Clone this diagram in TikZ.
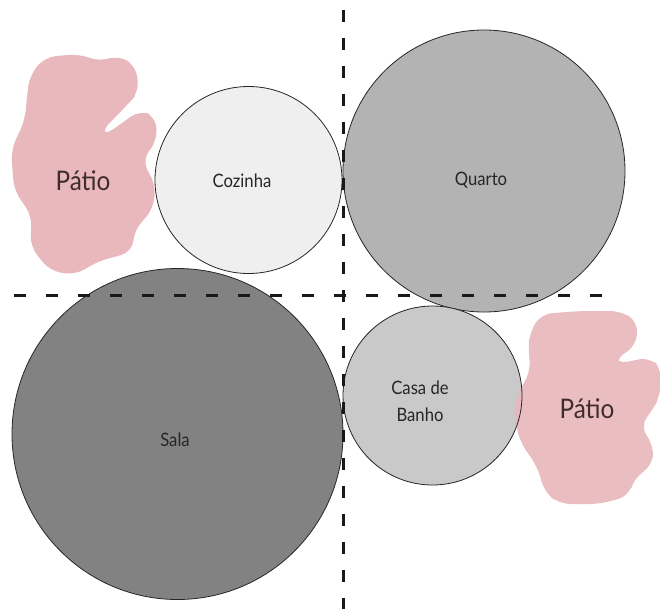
\documentclass[tikz,border=0pt]{standalone}
\usepackage{fontspec}
\setmainfont{Lato}[FakeStretch=0.9]
\definecolor{patio}{RGB}{232,184,188}
\definecolor{patiotext}{RGB}{64,44,46}
\definecolor{kitchen}{RGB}{239,239,239}
\definecolor{bedroom}{RGB}{179,179,179}
\definecolor{living}{RGB}{130,130,130}
\definecolor{bath}{RGB}{201,201,201}
\begin{document}
\begin{tikzpicture}[x=1pt,y=-1pt,
  room/.style={circle,draw=black!85,line width=0.8pt,inner sep=0pt},
  roomlabel/.style={text=black!85,font=\fontsize{18.5}{27}\selectfont,align=center,inner sep=0pt},
  patiolabel/.style={text=patiotext,font=\fontsize{27}{30}\selectfont,inner sep=0pt},
  axis/.style={line width=3pt,black!90},
  brush/.style={fill=patio,rounded corners=11}]
\useasboundingbox (0,0) rectangle (660,608);

% left patio patch
\fill[brush] (30,75) -- (45,57) -- (80,54) -- (100,62) -- (118,55) -- (136,66)
  -- (139,92) -- (128,104) -- (100,133) -- (104,136) -- (140,110) -- (156,117) -- (157,141)
  -- (142,160) -- (156,186) -- (152,212) -- (135,228) -- (132,252) -- (96,262)
  -- (76,275) -- (50,271) -- (30,246) -- (32,216) -- (14,190) -- (11,150)
  -- (25,120) -- (27,95) -- cycle;
\node[patiolabel] (patioL) at (83,181) {Pátio};

% rooms
\node[room,fill=kitchen,minimum size=187pt] (cozinha) at (248.5,180) {};
\node[room,fill=bedroom,minimum size=282pt] (quarto) at (484,171) {};
\node[room,fill=living,minimum size=331pt] (sala) at (177.5,434) {};
\node[room,fill=bath,draw=none,minimum size=179pt] (banho) at (432.5,395.5) {};

% right patio patch
\fill[brush,opacity=0.92] (530,332) -- (541,314) -- (580,311) -- (621,311) -- (638,322)
  -- (636,346) -- (614,360) -- (617,364) -- (650,357) -- (662,370) -- (660,396) -- (652,411)
  -- (640,426) -- (654,446) -- (652,466) -- (634,478) -- (629,496) -- (600,504)
  -- (560,504) -- (545,493) -- (537,466) -- (520,442) -- (513,410) -- (520,390)
  -- (531,370) -- (528,350) -- cycle;
\node[patiolabel] (patioR) at (587,409) {Pátio};

% bathroom outline drawn over the patch
\draw[black!85,line width=0.8pt] (banho.center) circle[radius=89.5];

% room names
\node[roomlabel] (cozinhatxt) at (242,181) {Cozinha};
\node[roomlabel] (quartotxt) at (481,180) {Quarto};
\node[roomlabel] (salatxt) at (175,440) {Sala};
\node[roomlabel] (banhotxt) at (420,401) {Casa de\\Banho};

% zoning axes
\coordinate (hL) at (14,295);
\coordinate (hR) at (612,295);
\coordinate (vT) at (343,10);
\coordinate (vB) at (343,610);
\draw[axis,dash pattern=on 12pt off 20pt] (hL) -- (hR);
\draw[axis,dash pattern=on 12pt off 16pt] (vT) -- (vB);
\end{tikzpicture}
\end{document}
